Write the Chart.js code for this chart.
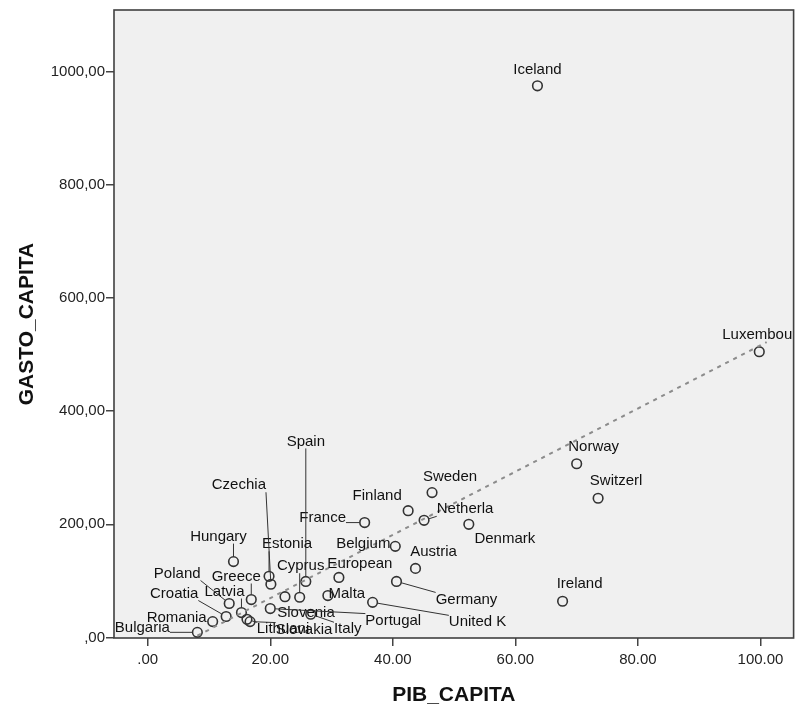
<!DOCTYPE html>
<html>
<head>
<meta charset="utf-8">
<script src="https://cdn.jsdelivr.net/npm/chart.js@4"></script>
<style>
  html, body { margin: 0; padding: 0; background: #fff; }
  #wrap { width: 800px; height: 706px; }
</style>
</head>
<body>
<div id="wrap"><canvas id="Chart" width="800" height="706"></canvas></div>
<script>
// names as SPSS printed them (cut to 8 chars)
const countries = [
    'Iceland', 'Luxembou', 'Norway', 'Switzerl', 'Ireland', 'Sweden', 'Finland', 'Netherla',
    'Denmark', 'France', 'Belgium', 'Austria', 'European', 'Germany', 'Malta', 'United K',
    'Spain', 'Cyprus', 'Slovenia', 'Portugal', 'Italy', 'Estonia', 'Czechia', 'Hungary',
    'Greece', 'Poland', 'Latvia', 'Croatia', 'Romania', 'Bulgaria', 'Lithuani', 'Slovakia'
];
const pibCapita = [
    63.6, 99.8, 70.0, 73.5, 67.7, 46.4, 42.5, 45.1,
    52.4, 35.4, 40.4, 43.7, 31.2, 40.6, 29.4, 36.7,
    25.8, 24.8, 22.4, 20.0, 26.6, 19.8, 20.1, 14.0,
    16.9, 13.3, 15.3, 12.8, 10.6, 8.1, 16.2, 16.7
];
const gastoCapita = [
    975, 505, 307, 246, 64, 256, 224, 207,
    200, 203, 161, 122, 106, 99, 74, 62,
    99, 71, 72, 51, 41, 108, 94, 134,
    67, 60, 44, 37, 28, 9, 32, 28
];
// ends of the dashed fit line
const fitPib = [8.1, 101.0];
const fitGasto = [3, 522];

const xTicks = [0, 20, 40, 60, 80, 100];
const yTicks = [0, 200, 400, 600, 800, 1000];

// label placement: [dx, dy] in px from the marker, third item = leader line
const labelOffsets = {
    'Iceland': [0, -16], 'Luxembou': [-2, -17], 'Norway': [17, -17], 'Switzerl': [18, -17],
    'Ireland': [17, -17], 'Sweden': [18, -16], 'Finland': [-31, -15], 'Netherla': [41, -11, true],
    'Denmark': [36, 15], 'France': [-42, -5, true], 'Belgium': [-32, -2], 'Austria': [18, -17],
    'European': [21, -14], 'Germany': [70, 18, true], 'Malta': [19, -2], 'United K': [105, 20, true],
    'Spain': [0, -140, true], 'Cyprus': [1, -31, true], 'Slovenia': [21, 16], 'Portugal': [123, 12, true],
    'Italy': [37, 15, true], 'Estonia': [18, -32, true], 'Czechia': [-32, -99, true], 'Hungary': [-15, -25, true],
    'Greece': [-15, -23, true], 'Poland': [-52, -30, true], 'Latvia': [-17, -21, true], 'Croatia': [-52, -23, true],
    'Romania': [-36, -4, true], 'Bulgaria': [-55, -4, true], 'Lithuani': [36, 10, true], 'Slovakia': [54, 8, true]
};

const FONT = '"Liberation Sans", Arial, sans-serif';

let plotFrame = {
    id: 'plotFrame',
    beforeDraw: function (chart) {
        let a = chart.chartArea, ctx = chart.ctx;
        ctx.save();
        ctx.fillStyle = '#f0f0f0';
        ctx.fillRect(a.left, a.top, a.right - a.left, a.bottom - a.top);
        ctx.restore();
    },
    beforeDatasetsDraw: function (chart) {
        let a = chart.chartArea, ctx = chart.ctx;
        ctx.save();
        ctx.strokeStyle = '#404040';
        ctx.lineWidth = 1.6;
        ctx.strokeRect(a.left, a.top, a.right - a.left, a.bottom - a.top);
        ctx.restore();
    }
};

let pointLabels = {
    id: 'pointLabels',
    afterDatasetsDraw: function (chart) {
        let ctx = chart.ctx;
        let xs = chart.scales.x, ys = chart.scales.y;
        ctx.save();
        ctx.font = '15px ' + FONT;
        ctx.textAlign = 'center';
        ctx.textBaseline = 'middle';
        ctx.fillStyle = '#111';
        ctx.strokeStyle = '#333';
        ctx.lineWidth = 1;
        countries.forEach(function (name, i) {
            let px = xs.getPixelForValue(pibCapita[i]);
            let py = ys.getPixelForValue(gastoCapita[i]);
            let o = labelOffsets[name];
            let lx = px + o[0], ly = py + o[1];
            if (o[2]) {
                let w = ctx.measureText(name).width / 2, h = 7;
                let tx = Math.min(Math.max(px, lx - w), lx + w);
                let ty = Math.min(Math.max(py, ly - h), ly + h);
                let d = Math.hypot(tx - px, ty - py);
                if (d > 7) {
                    ctx.beginPath();
                    ctx.moveTo(px + (tx - px) / d * 5, py + (ty - py) / d * 5);
                    ctx.lineTo(tx, ty);
                    ctx.stroke();
                }
            }
            ctx.fillText(name, lx, ly);
        });
        ctx.restore();
    }
};

let config = {
    type: 'scatter',
    data: {
        datasets: [{
            label: 'Fit',
            type: 'line',
            data: fitPib.map(function (x, i) { return {x: x, y: fitGasto[i]}; }),
            borderColor: '#8c8c8c',
            borderWidth: 2,
            borderDash: [4, 5],
            pointRadius: 0,
            fill: false
        }, {
            label: 'GASTO_CAPITA',
            data: pibCapita.map(function (x, i) { return {x: x, y: gastoCapita[i]}; }),
            pointRadius: 4.8,
            pointBorderWidth: 1.6,
            pointBorderColor: '#333',
            pointBackgroundColor: 'rgba(0,0,0,0)'
        }]
    },
    options: {
        responsive: false,
        devicePixelRatio: 1,
        animation: false,
        layout: { padding: { top: 10, right: 1, left: 0, bottom: 0 } },
        plugins: { legend: { display: false }, tooltip: { enabled: false } },
        scales: {
            x: {
                type: 'linear',
                min: -5.5,
                max: 105.4,
                afterBuildTicks: function (s) { s.ticks = xTicks.map(function (v) { return {value: v}; }); },
                afterFit: function (s) { s.height = 68; s.paddingLeft = 0; s.paddingRight = 0; },
                ticks: {
                    callback: function (v) { return v === 0 ? '.00' : v.toFixed(2); },
                    font: { family: FONT, size: 15 },
                    color: '#222',
                    padding: 5,
                    maxRotation: 0,
                    autoSkip: false
                },
                grid: { drawOnChartArea: false, drawTicks: true, tickLength: 8, color: '#444', lineWidth: 1.5 },
                border: { display: false },
                title: {
                    display: true,
                    text: 'PIB_CAPITA',
                    font: { family: FONT, size: 21, weight: 'bold', lineHeight: 1 },
                    color: '#111',
                    padding: { top: 0, bottom: 0 }
                }
            },
            y: {
                type: 'linear',
                min: -1,
                max: 1109,
                afterBuildTicks: function (s) { s.ticks = yTicks.map(function (v) { return {value: v}; }); },
                afterFit: function (s) { s.width = 114; s.paddingTop = 0; s.paddingBottom = 0; },
                ticks: {
                    callback: function (v) { return v === 0 ? ',00' : v.toFixed(2).replace('.', ','); },
                    font: { family: FONT, size: 15 },
                    color: '#222',
                    padding: 1,
                    autoSkip: false
                },
                grid: { drawOnChartArea: false, drawTicks: true, tickLength: 8, color: '#444', lineWidth: 1.5 },
                border: { display: false },
                title: {
                    display: true,
                    text: 'GASTO_CAPITA',
                    font: { family: FONT, size: 21, weight: 'bold', lineHeight: 1 },
                    color: '#111',
                    padding: { top: 17, bottom: 0 }
                }
            }
        }
    },
    plugins: [plotFrame, pointLabels]
};

window.onload = function () {
    let ctx = document.getElementById('Chart').getContext('2d');
    window.myChart = new Chart(ctx, config);
};
</script>
</body>
</html>
